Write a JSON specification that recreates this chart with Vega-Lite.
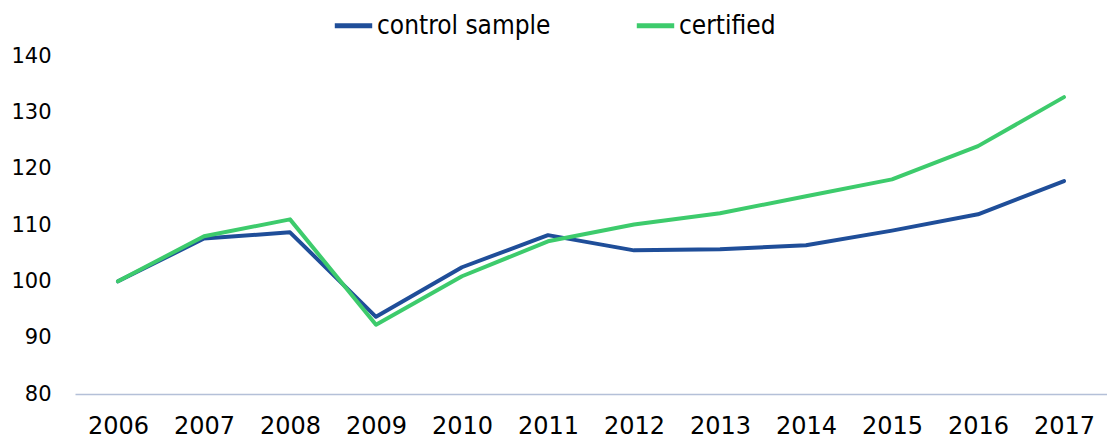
{
  "$schema": "https://vega.github.io/schema/vega-lite/v6.json",
  "width": 1032,
  "height": 338,
  "autosize": {"type": "none"},
  "padding": {"left": 75, "top": 56, "right": 0, "bottom": 45},
  "background": "white",
  "config": {"view": {"stroke": null}},
  "data": {"values": [
    {"year": "2006", "series": "control sample", "value": 100},
    {"year": "2007", "series": "control sample", "value": 107.6},
    {"year": "2008", "series": "control sample", "value": 108.7},
    {"year": "2009", "series": "control sample", "value": 93.7},
    {"year": "2010", "series": "control sample", "value": 102.5},
    {"year": "2011", "series": "control sample", "value": 108.2},
    {"year": "2012", "series": "control sample", "value": 105.5},
    {"year": "2013", "series": "control sample", "value": 105.7},
    {"year": "2014", "series": "control sample", "value": 106.4},
    {"year": "2015", "series": "control sample", "value": 109.0},
    {"year": "2016", "series": "control sample", "value": 111.9},
    {"year": "2017", "series": "control sample", "value": 117.8},
    {"year": "2006", "series": "certified", "value": 100},
    {"year": "2007", "series": "certified", "value": 108.0},
    {"year": "2008", "series": "certified", "value": 111.0},
    {"year": "2009", "series": "certified", "value": 92.3},
    {"year": "2010", "series": "certified", "value": 100.9},
    {"year": "2011", "series": "certified", "value": 107.1},
    {"year": "2012", "series": "certified", "value": 110.1},
    {"year": "2013", "series": "certified", "value": 112.1},
    {"year": "2014", "series": "certified", "value": 115.1},
    {"year": "2015", "series": "certified", "value": 118.1},
    {"year": "2016", "series": "certified", "value": 124.0},
    {"year": "2017", "series": "certified", "value": 132.7}
  ]},
  "mark": {"type": "line", "strokeWidth": 4, "strokeCap": "round", "strokeJoin": "round"},
  "encoding": {
    "x": {
      "field": "year", "type": "ordinal", "sort": null,
      "scale": {"type": "point", "padding": 0.5},
      "axis": {
        "title": null, "labelAngle": 0, "ticks": false, "grid": false,
        "domainColor": "#b4c0d8", "domainWidth": 1.5,
        "labelFont": "DejaVu Sans", "labelFontSize": 24, "labelColor": "#000000",
        "labelPadding": 20
      }
    },
    "y": {
      "field": "value", "type": "quantitative",
      "scale": {"domain": [80, 140], "nice": false, "zero": false},
      "axis": {
        "title": null, "values": [80, 90, 100, 110, 120, 130, 140],
        "ticks": false, "domain": false, "grid": false,
        "labelFont": "DejaVu Sans", "labelFontSize": 21, "labelColor": "#000000",
        "labelPadding": 24
      }
    },
    "color": {
      "field": "series", "type": "nominal",
      "scale": {"domain": ["control sample", "certified"], "range": ["#1F4E99", "#3DCB6C"]},
      "legend": {
        "title": null, "orient": "none", "direction": "horizontal",
        "legendX": 257, "legendY": -52,
        "symbolType": "stroke", "symbolStrokeWidth": 5, "symbolSize": 1400,
        "labelFont": "DejaVu Sans Condensed, Liberation Sans, sans-serif", "labelFontSize": 26, "labelColor": "#000000",
        "labelLimit": 400,
        "labelOffset": 2, "columnPadding": 75, "symbolOffset": 0
      }
    }
  }
}
